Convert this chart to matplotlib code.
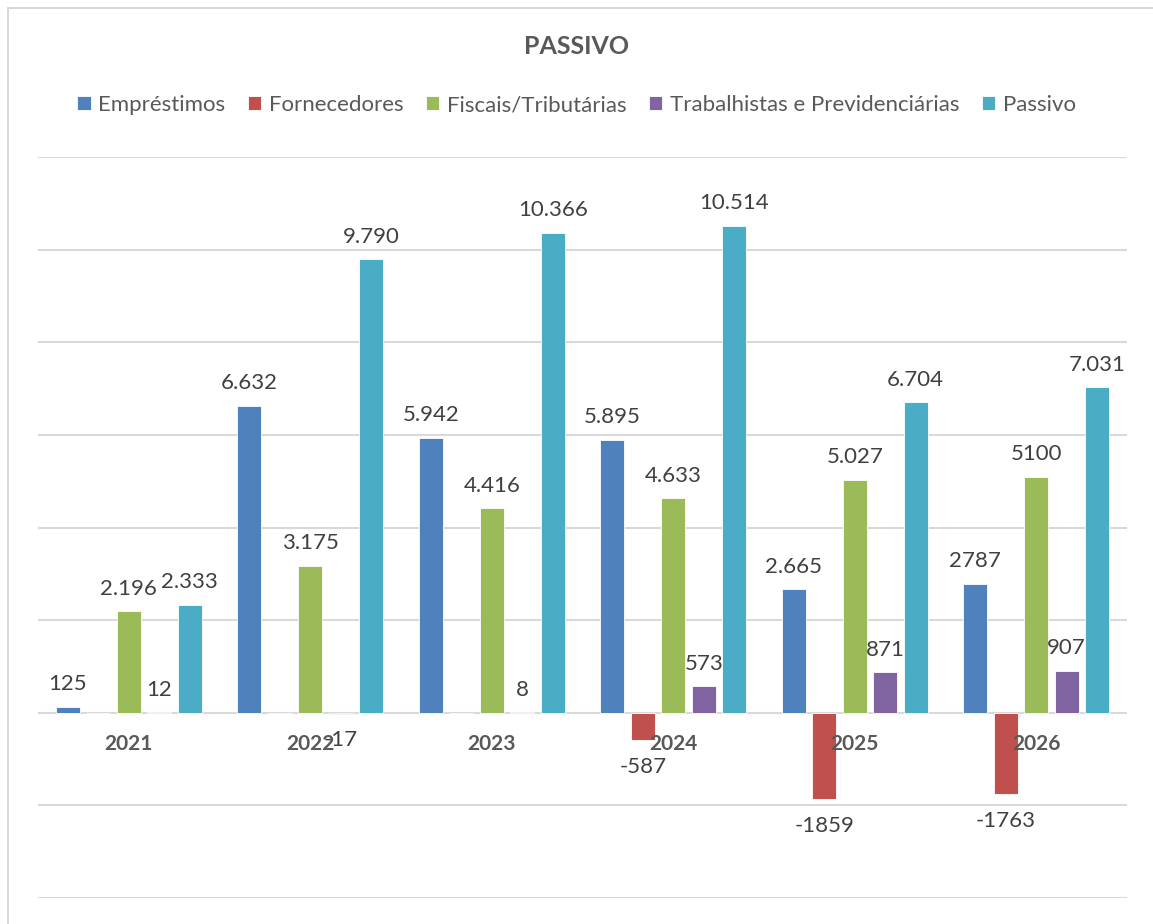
import numpy as np
import matplotlib.pyplot as plt
from matplotlib.patches import Rectangle

# dados do gráfico
anos = ['2021', '2022', '2023', '2024', '2025', '2026']
series = ['Empréstimos', 'Fornecedores', 'Fiscais/Tributárias',
          'Trabalhistas e Previdenciárias', 'Passivo']
emprestimos = [125, 6632, 5942, 5895, 2665, 2787]
fornecedores = [0, 0, 0, -587, -1859, -1763]
fiscais = [2196, 3175, 4416, 4633, 5027, 5100]
trabalhistas = [12, -17, 8, 573, 871, 907]
passivo = [2333, 9790, 10366, 10514, 6704, 7031]

rot_emprestimos = ['125', '6.632', '5.942', '5.895', '2.665', '2787']
rot_fornecedores = ['', '', '', '-587', '-1859', '-1763']
rot_fiscais = ['2.196', '3.175', '4.416', '4.633', '5.027', '5100']
rot_trabalhistas = ['12', '-17', '8', '573', '871', '907']
rot_passivo = ['2.333', '9.790', '10.366', '10.514', '6.704', '7.031']

valores = [emprestimos, fornecedores, fiscais, trabalhistas, passivo]
rotulos = [rot_emprestimos, rot_fornecedores, rot_fiscais, rot_trabalhistas, rot_passivo]
cores = ['#4F81BD', '#C0504D', '#9BBB59', '#8064A2', '#4BACC6']

plt.rcParams['font.family'] = ['Lato', 'DejaVu Sans']

fig = plt.figure(figsize=(11.53, 9.24), dpi=100)
fig.patches.append(Rectangle((8 / 1153, -0.01), 1.0, 1 - 8 / 924 + 0.01,
                             transform=fig.transFigure, fill=False,
                             edgecolor='#D9D9D9', linewidth=1.5))
ax = fig.add_axes([38 / 1153, 1 - 898 / 924, (1127 - 38) / 1153, (898 - 157) / 924])

x = np.arange(len(anos))
passo = 0.168
largura = 0.132
for i, (vals, rots, cor, nome) in enumerate(zip(valores, rotulos, cores, series)):
    pos = x + (i - 2) * passo
    ax.bar(pos, vals, largura, color=cor, edgecolor='white', linewidth=0.6, label=nome, zorder=3)
    for px, v, r in zip(pos, vals, rots):
        if r == '':
            continue
        if v < 0:
            ax.annotate(r, (px, v), xytext=(0, -12), textcoords='offset points',
                        ha='center', va='top', fontsize=16, color='#404040', zorder=4)
        else:
            ax.annotate(r, (px, v), xytext=(0, 9), textcoords='offset points',
                        ha='center', va='bottom', fontsize=16, color='#404040', zorder=4)

# rótulos dos anos logo abaixo da linha do zero
for xi, ano in zip(x, anos):
    ax.annotate(ano, (xi, 0), xytext=(0, -15), textcoords='offset points',
                ha='center', va='top', fontsize=15, fontweight='bold', color='#595959', zorder=5)

ax.set_xlim(-0.5, len(anos) - 0.5)
ax.set_ylim(-4000, 12000)
ax.set_yticks(np.arange(-4000, 12001, 2000))
ax.yaxis.grid(True, color='#D9D9D9', linewidth=1.5, zorder=0)
ax.set_yticklabels([])
ax.set_xticks([])
ax.tick_params(left=False, bottom=False)
for s in ax.spines.values():
    s.set_visible(False)

fig.text(0.5, 1 - 47 / 924, 'PASSIVO', ha='center', va='center',
         fontsize=18, fontweight='bold', color='#595959')
fig.legend(loc='center', bbox_to_anchor=(0.5, 1 - 105 / 924), ncol=5, frameon=False,
           fontsize=16, handlelength=0.6, handleheight=0.6, handletextpad=0.35,
           columnspacing=1.0, labelcolor='#595959')

fig.savefig('out.png', dpi=100)
